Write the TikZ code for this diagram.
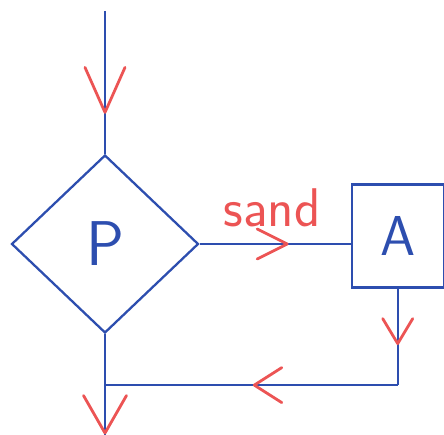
\documentclass[tikz,border=0pt]{standalone}
\usepackage{tikz}
\usetikzlibrary{shapes.geometric, positioning, calc, decorations.markings}

\definecolor{penblue}{RGB}{45,78,175}
\definecolor{penred}{RGB}{236,84,84}

\begin{document}
\begin{tikzpicture}[
        x=0.02cm, y=-0.02cm,
        font=\sffamily,
        flow/.style={draw=penblue, line width=1.3pt},
        decision/.style={diamond, draw=penblue, line width=1.3pt, minimum width=3.74cm, minimum height=3.56cm, inner sep=0pt, text=penblue, font=\sffamily\fontsize{36}{40}\selectfont},
        action/.style={rectangle, draw=penblue, line width=1.3pt, minimum width=1.84cm, minimum height=2.06cm, inner sep=0pt, text=penblue, font=\sffamily\fontsize{32}{36}\selectfont},
        vmark/.style n args={3}{postaction={decorate, decoration={markings, mark=at position #1 with {\draw[penred, line width=1.6pt, line cap=round, line join=round] (-#2,#3) -- (0,0) -- (-#2,-#3);}}}}
    ]
    \useasboundingbox (0,0) rectangle (444,435);

    % 1. Blocks: the test and the action to its right
    \node[decision] (test) at (105,244) {P};
    \node[action, right=3.02cm of test, yshift=0.16cm] (act) {A};

    % free ends and the point where the loop joins again
    \coordinate[above=2.86cm of test] (in);
    \coordinate[below=1.02cm of test] (join);
    \coordinate[below=2.04cm of test] (out);
    \coordinate (turn) at (act.south |- join);

    % 2. Lines, each with its red V drawn on it
    \draw[flow, vmark={0.71}{0.9cm}{0.4cm}] (in) -- (test);
    \draw[flow, vmark={0.58}{0.6cm}{0.3cm}] (test) -- node[above=7pt, pos=0.48, inner sep=2pt, text=penred, font=\sffamily\fontsize{31}{34}\selectfont] {sand} (test -| act.west);
    \draw[flow, vmark={0.57}{0.5cm}{0.3cm}] (act) -- (turn);
    \draw[flow, vmark={0.49}{0.55cm}{0.35cm}] (turn) -- (join);
    \draw[flow, vmark={0.97}{0.75cm}{0.43cm}] (test) -- (out);

\end{tikzpicture}
\end{document}
